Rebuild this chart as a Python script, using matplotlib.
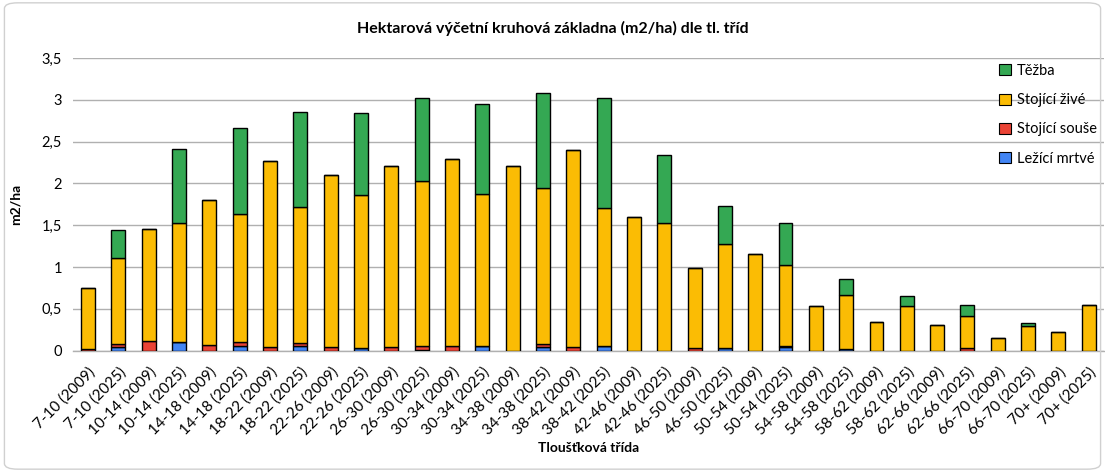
import matplotlib
matplotlib.use("Agg")
import matplotlib.pyplot as plt
from matplotlib.patches import FancyBboxPatch
from matplotlib.ticker import FuncFormatter, MultipleLocator
import numpy as np

classes = ["7-10", "10-14", "14-18", "18-22", "22-26", "26-30", "30-34", "34-38",
           "38-42", "42-46", "46-50", "50-54", "54-58", "58-62", "62-66", "66-70", "70+"]
categories = []
for c in classes:
    categories += [f"{c} (2009)", f"{c} (2025)"]

lezici_mrtve = [0.00, 0.05, 0.00, 0.10, 0.00, 0.06, 0.00, 0.06, 0.00, 0.03, 0.00, 0.01,
                0.00, 0.06, 0.00, 0.04, 0.00, 0.06, 0.00, 0.00, 0.00, 0.03, 0.00, 0.04,
                0.00, 0.02, 0.00, 0.00, 0.00, 0.00, 0.00, 0.00, 0.00, 0.00]
stojici_souse = [0.02, 0.03, 0.12, 0.00, 0.07, 0.04, 0.05, 0.03, 0.04, 0.00, 0.04, 0.05,
                 0.06, 0.00, 0.00, 0.04, 0.04, 0.00, 0.00, 0.00, 0.03, 0.00, 0.00, 0.02,
                 0.00, 0.00, 0.00, 0.00, 0.00, 0.03, 0.00, 0.00, 0.00, 0.00]
stojici_zive = [0.73, 1.03, 1.33, 1.43, 1.73, 1.53, 2.22, 1.63, 2.06, 1.83, 2.17, 1.97,
                2.23, 1.81, 2.21, 1.87, 2.36, 1.65, 1.60, 1.53, 0.96, 1.25, 1.16, 0.97,
                0.53, 0.65, 0.34, 0.54, 0.31, 0.38, 0.15, 0.29, 0.22, 0.55]
tezba = [0.00, 0.33, 0.00, 0.88, 0.00, 1.03, 0.00, 1.14, 0.00, 0.98, 0.00, 0.99,
         0.00, 1.08, 0.00, 1.13, 0.00, 1.31, 0.00, 0.81, 0.00, 0.45, 0.00, 0.50,
         0.00, 0.19, 0.00, 0.12, 0.00, 0.14, 0.00, 0.04, 0.00, 0.00]

series = [("Ležící mrtvé", lezici_mrtve, "#4285f4"),
          ("Stojící souše", stojici_souse, "#ea4335"),
          ("Stojící živé", stojici_zive, "#fbbc04"),
          ("Těžba", tezba, "#34a853")]

plt.rcParams['font.family'] = ['Lato', 'DejaVu Sans']

fig = plt.figure(figsize=(11.05, 4.72), dpi=100)
fig.patches.append(FancyBboxPatch((0.004, 0.006), 0.992, 0.988,
                                  boxstyle="round,pad=0,rounding_size=0.012",
                                  transform=fig.transFigure, fill=False,
                                  edgecolor="#d0d0d0", linewidth=1.0))
ax = fig.add_axes([0.066, 0.257, 0.933, 0.62])

x = np.arange(len(categories))
bottom = np.zeros(len(categories))
handles = {}
for name, vals, col in series:
    v = np.array(vals)
    b = ax.bar(x, v, 0.46, bottom=bottom, color=col, edgecolor="black",
               linewidth=1.0, label=name, zorder=3)
    handles[name] = b
    bottom += v

ax.set_xlim(-0.5, len(categories) - 0.5)
ax.set_ylim(0, 3.5)
ax.yaxis.set_major_locator(MultipleLocator(0.5))
ax.yaxis.set_major_formatter(FuncFormatter(lambda v, p: f"{v:g}".replace(".", ",")))
ax.grid(axis="y", color="#b0b0b0", linewidth=1.0, zorder=0)
for s in ["top", "right", "left"]:
    ax.spines[s].set_visible(False)
ax.spines["bottom"].set_color("#b0b0b0")
ax.spines["bottom"].set_linewidth(1.0)
ax.tick_params(axis="y", length=0, labelsize=10.5, colors="black", pad=8)
ax.set_xticks(x)
ax.set_xticklabels(categories, rotation=45, ha="right", rotation_mode="anchor",
                   fontsize=11)
ax.tick_params(axis="x", length=0, pad=10)

ax.set_ylabel("m2/ha", fontsize=10, fontweight="bold", labelpad=14)
ax.set_xlabel("Tloušťková třída", fontsize=10, fontweight="bold", labelpad=3)
fig.text(0.5, 0.94, "Hektarová výčetní kruhová základna (m2/ha) dle tl. tříd",
         ha="center", va="center", fontsize=11.5, fontweight="bold")

order = ["Těžba", "Stojící živé", "Stojící souše", "Ležící mrtvé"]
leg = ax.legend([handles[n] for n in order], order, loc="upper left",
                bbox_to_anchor=(0.886, 1.025), frameon=False, fontsize=10.5,
                handlelength=0.8, handleheight=0.8, labelspacing=1.05,
                handletextpad=0.4)
for h in leg.legend_handles:
    h.set_linewidth(0.8)

fig.savefig("out.png", dpi=100)
